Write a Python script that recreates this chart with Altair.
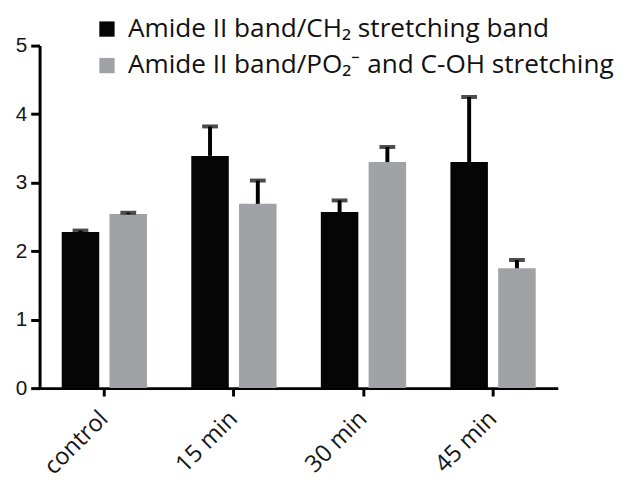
import altair as alt
import pandas as pd

categories = ["control", "15 min", "30 min", "45 min"]
series_names = ["Amide II band/CH₂ stretching band", "Amide II band/PO₂⁻ and C-OH stretching"]
ch2_means = [2.28, 3.39, 2.57, 3.30]
ch2_upper = [2.30, 3.82, 2.74, 4.25]
po2_means = [2.54, 2.69, 3.30, 1.75]
po2_upper = [2.56, 3.03, 3.52, 1.87]
colors = ["#050505", "#a1a2a6"]

rows = []
for i, c in enumerate(categories):
    rows.append({"cat": c, "series": series_names[0], "value": ch2_means[i], "upper": ch2_upper[i]})
    rows.append({"cat": c, "series": series_names[1], "value": po2_means[i], "upper": po2_upper[i]})
df = pd.DataFrame(rows)

x_enc = alt.X("cat:N", sort=categories, title=None,
              scale=alt.Scale(paddingInner=0.34, paddingOuter=0.17),
              axis=alt.Axis(labelAngle=-45, labelFont="Open Sans", labelFontSize=24,
                            labelAlign="right", labelBaseline="middle",
                            labelPadding=19, tickSize=8, labelOverlap=False))
xoff = alt.XOffset("series:N", sort=series_names, scale=alt.Scale(paddingInner=0.21, paddingOuter=0))
y_scale = alt.Scale(domain=[0, 5], nice=False)

bars = alt.Chart(df).mark_bar(size=38).encode(
    x=x_enc,
    xOffset=xoff,
    y=alt.Y("value:Q", scale=y_scale, title=None,
            axis=alt.Axis(values=[0, 1, 2, 3, 4, 5], format="d", labelFont="Liberation Sans",
                          labelFontSize=21, tickSize=9, labelPadding=4)),
    color=alt.Color("series:N", sort=series_names,
                    scale=alt.Scale(domain=series_names, range=colors),
                    legend=alt.Legend(title=None, orient="none", legendX=55, legendY=-30,
                                      symbolType="square", symbolSize=240, symbolStrokeWidth=0,
                                      labelFont="Open Sans", labelFontSize=26.5, labelColor="#111",
                                      labelOffset=8, rowPadding=10, padding=0, labelLimit=700)),
)

stems = alt.Chart(df).mark_rule(color="black", strokeWidth=4).encode(
    x=alt.X("cat:N", sort=categories),
    xOffset=xoff,
    y=alt.Y("value:Q", scale=y_scale),
    y2="upper:Q",
)

caps = alt.Chart(df).mark_tick(color="black", size=16, thickness=4, orient="horizontal").encode(
    x=alt.X("cat:N", sort=categories),
    xOffset=xoff,
    y=alt.Y("upper:Q", scale=y_scale),
)

chart = alt.layer(bars, stems, caps).properties(
    width=525, height=347,
    autosize=alt.AutoSizeParams(type="none"),
    padding={"left": 32, "top": 35, "right": 63, "bottom": 90},
).configure_view(stroke=None).configure_axis(
    grid=False, domain=True, domainColor="black", domainWidth=3,
    ticks=True, tickColor="black", tickWidth=3, labelColor="#151515"
)

chart.save("out.html", embed_options={"renderer": "svg", "actions": False})
